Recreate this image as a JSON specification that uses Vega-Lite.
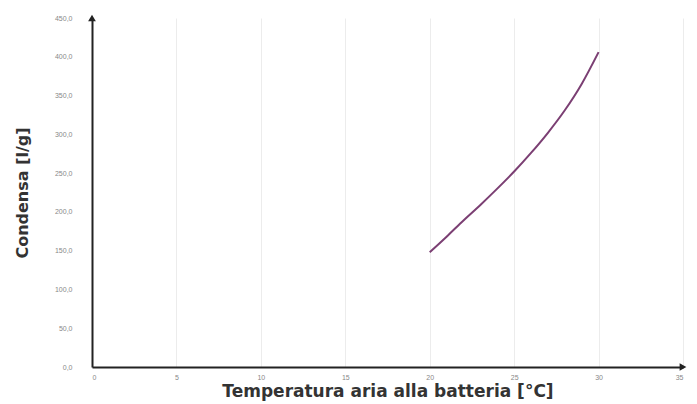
{
  "$schema": "https://vega.github.io/schema/vega-lite/v6.json",
  "width": 591,
  "height": 349,
  "autosize": "none",
  "padding": {"left": 92, "top": 18, "right": 14, "bottom": 37},
  "background": "white",
  "config": {
    "view": {"stroke": null},
    "locale": {"number": {"decimal": ",", "thousands": ".", "grouping": [3], "currency": ["€", ""]}},
    "font": "Liberation Sans"
  },
  "encoding": {
    "x": {
      "field": "t", "type": "quantitative",
      "scale": {"domain": [0, 35], "nice": false, "zero": false},
      "axis": {
        "values": [0, 5, 10, 15, 20, 25, 30, 35],
        "title": "Temperatura aria alla batteria  [°C]",
        "titleFont": "DejaVu Sans",
        "titleFontSize": 17, "titleFontWeight": "bold", "titleColor": "#333333",
        "titlePadding": 3,
        "labelFontSize": 7, "labelColor": "#888888", "labelPadding": 6,
        "labelOverlap": false,
        "ticks": false,
        "domainColor": "#222222", "domainWidth": 2,
        "grid": true, "gridColor": "#ececec", "gridWidth": 1
      }
    },
    "y": {
      "field": "c", "type": "quantitative",
      "scale": {"domain": [0, 450], "nice": false},
      "axis": {
        "values": [0, 50, 100, 150, 200, 250, 300, 350, 400, 450],
        "format": ".1f",
        "title": "Condensa  [l/g]",
        "titleFont": "DejaVu Sans",
        "titleFontSize": 16, "titleFontWeight": "bold", "titleColor": "#333333",
        "titlePadding": 24,
        "labelFontSize": 7, "labelColor": "#888888", "labelPadding": 20,
        "labelOverlap": false,
        "ticks": false,
        "domainColor": "#222222", "domainWidth": 2,
        "grid": false
      }
    }
  },
  "layer": [
    {
      "data": {"values": [
        {"t": 20, "c": 148},
        {"t": 21, "c": 168},
        {"t": 22, "c": 189},
        {"t": 23, "c": 209},
        {"t": 24, "c": 230},
        {"t": 25, "c": 252},
        {"t": 26, "c": 276},
        {"t": 27, "c": 302},
        {"t": 28, "c": 331},
        {"t": 29, "c": 365},
        {"t": 30, "c": 406}
      ]},
      "mark": {"type": "line", "color": "#7b3f73", "strokeWidth": 2, "interpolate": "monotone"}
    },
    {
      "data": {"values": [{"t": 35, "c": 0}]},
      "mark": {"type": "point", "shape": "triangle-right", "filled": true, "color": "#222222", "size": 60, "opacity": 1, "clip": false}
    },
    {
      "data": {"values": [{"t": 0, "c": 450}]},
      "mark": {"type": "point", "shape": "triangle-up", "filled": true, "color": "#222222", "size": 60, "opacity": 1, "clip": false}
    }
  ]
}
